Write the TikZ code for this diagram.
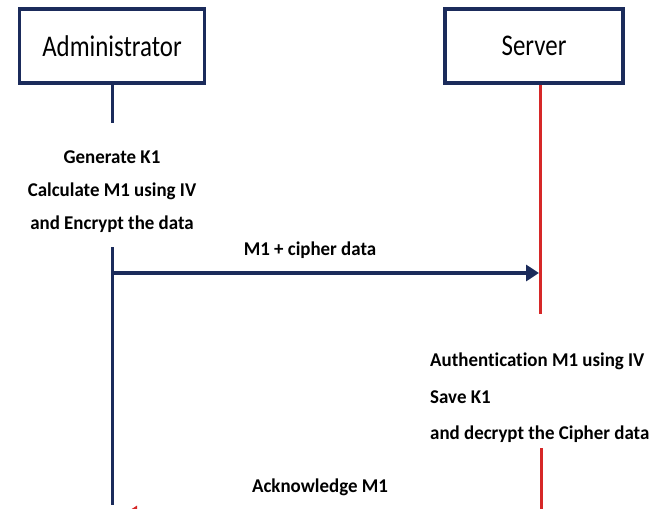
\documentclass[tikz,border=0pt]{standalone}
\usepackage{fontspec}
\setmainfont{Carlito}[Ligatures=NoCommon]
\newfontfamily\boxfont[FakeStretch=0.83]{Carlito}
\newfontfamily\notefont[FakeStretch=0.97, Ligatures=NoCommon]{Carlito}
\usetikzlibrary{arrows.meta,positioning}

\definecolor{navy}{HTML}{1B2B5B}
\definecolor{lifered}{HTML}{D62828}

\begin{document}
\begin{tikzpicture}[x=1pt, y=-1pt,
  actor/.style={draw=navy, line width=3.5pt, minimum height=74pt, inner sep=0pt,
    font=\boxfont\fontsize{30}{30}\selectfont},
  note/.style={font=\notefont\bfseries\fontsize{19.5}{33}\selectfont, inner sep=0pt},
  lifeline/.style={line width=3pt},
  msg/.style={line width=4pt, -{Triangle[length=13pt,width=16pt]}}]
  \useasboundingbox (0,0) rectangle (662,509);

  % the two parties
  \node[actor, minimum width=185pt] (admin) at (112,46) {Administrator};
  \node[actor, minimum width=178pt] (server) at (534,46) {Server};

  % points on the life lines
  \coordinate (a1) at (112,123);
  \coordinate (a2) at (112,247);
  \coordinate (a3) at (112,505);
  \coordinate (s1) at (540,314);
  \coordinate (s2) at (541,448);
  \coordinate (s3) at (541,520);

  \draw[lifeline, navy] (admin.south -| a1) -- (a1);
  \draw[lifeline, navy] (a2) -- (a3);
  \draw[lifeline, lifered] (server.south -| s1) -- (s1);
  \draw[lifeline, lifered] (s2) -- (s3);

  % what each side does
  \node[note, align=center] (gen) at (112,192) {Generate K1\\Calculate M1 using IV\\and Encrypt the data};
  \node[note, align=left, anchor=west, font=\notefont\bfseries\fontsize{19.5}{36.5}\selectfont] (auth) at (430,398) {Authentication M1 using IV\\Save K1\\and decrypt the Cipher data};

  % messages
  \coordinate (m1) at (112,273);
  \coordinate (m1e) at (539,273);
  \draw[msg, navy] (m1) -- (m1e);
  \node[note] (m1lbl) at (310,250) {M1 + cipher data};

  \coordinate (ack) at (541,514);
  \coordinate (acke) at (124,514);
  \draw[msg, lifered] (ack) -- (acke);
  \node[note] (acklbl) at (320,487) {Acknowledge M1};

\end{tikzpicture}
\end{document}
